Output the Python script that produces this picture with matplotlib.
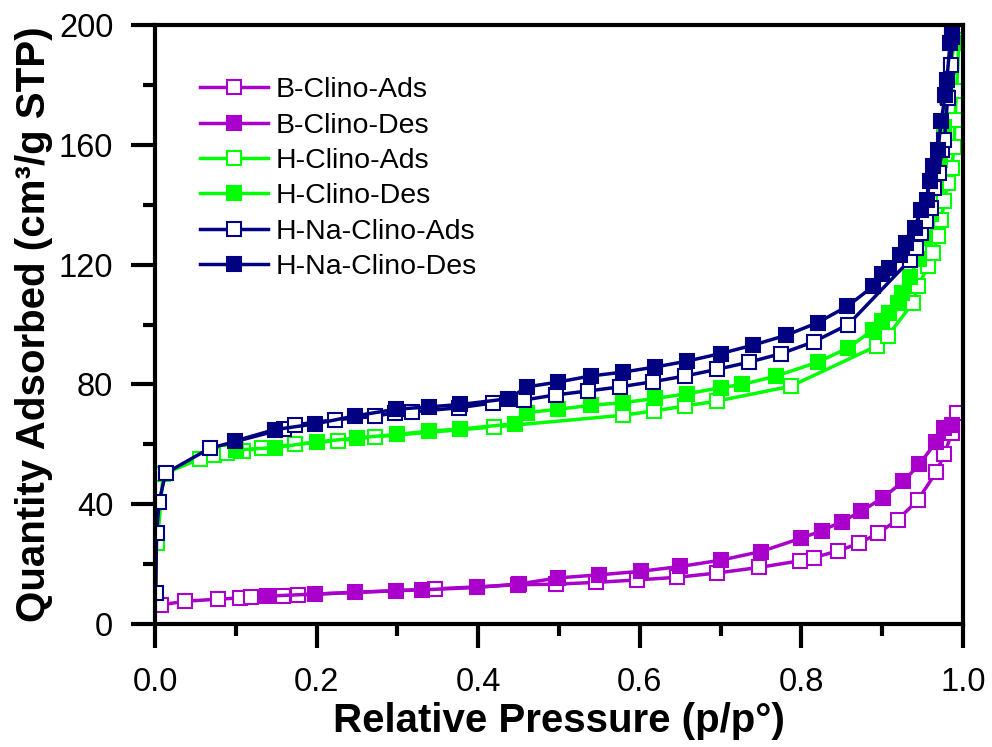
import numpy as np
import matplotlib
matplotlib.use("Agg")
import matplotlib.pyplot as plt
from matplotlib.ticker import MultipleLocator

plt.rcParams['font.family'] = ['Liberation Sans', 'DejaVu Sans']

# B-Clino (purple)
b_ads_p = [0.008, 0.037, 0.078, 0.105, 0.119, 0.158, 0.177, 0.346, 0.449, 0.496, 0.546,
           0.596, 0.646, 0.695, 0.748, 0.798, 0.816, 0.845, 0.871, 0.895, 0.919, 0.944,
           0.967, 0.977, 0.986, 0.992]
b_ads_q = [6.4, 7.6, 8.3, 8.7, 8.9, 9.4, 9.7, 11.7, 13.1, 13.3, 13.9,
           14.7, 15.6, 17.0, 18.9, 21.1, 22.2, 24.4, 26.9, 30.3, 34.8, 41.3,
           50.8, 56.7, 63.7, 70.6]
b_des_p = [0.138, 0.198, 0.248, 0.298, 0.330, 0.399, 0.451, 0.499, 0.549, 0.601, 0.650,
           0.700, 0.750, 0.799, 0.825, 0.850, 0.874, 0.901, 0.926, 0.946, 0.967, 0.977, 0.986]
b_des_q = [9.3, 10.0, 10.6, 11.1, 11.4, 12.2, 13.4, 15.4, 16.4, 17.6, 19.2,
           21.3, 24.2, 28.6, 31.1, 34.2, 37.6, 42.2, 47.6, 53.3, 60.9, 65.3, 66.5]

# H-Clino (green)
h_ads_p = [0.003, 0.010, 0.056, 0.073, 0.089, 0.109, 0.133, 0.173, 0.226, 0.272, 0.420,
           0.579, 0.617, 0.656, 0.695, 0.787, 0.893, 0.907, 0.938, 0.944, 0.957, 0.963,
           0.969, 0.973, 0.977, 0.981, 0.986, 0.989, 0.990, 0.992, 0.995]
h_ads_q = [27.0, 50.0, 55.2, 56.3, 57.0, 57.8, 58.7, 60.0, 61.2, 62.5, 65.8,
           69.7, 71.1, 72.8, 74.4, 79.4, 92.8, 96.3, 107.2, 112.8, 119.4, 123.9,
           129.4, 135.0, 141.1, 147.2, 152.2, 159.4, 168.3, 177.8, 195.0]
h_des_p = [0.100, 0.148, 0.200, 0.250, 0.299, 0.339, 0.378, 0.446, 0.461, 0.499, 0.539,
           0.579, 0.619, 0.659, 0.700, 0.727, 0.769, 0.820, 0.858, 0.888, 0.900, 0.909,
           0.919, 0.924, 0.934, 0.945, 0.953, 0.960, 0.966, 0.971, 0.976, 0.980, 0.985, 0.989]
h_des_q = [58.1, 58.9, 60.8, 62.1, 63.3, 64.4, 65.1, 66.9, 70.6, 71.7, 73.0,
           73.9, 75.3, 76.9, 78.9, 80.0, 82.8, 87.4, 92.2, 98.1, 101.1, 103.9,
           107.2, 110.6, 116.0, 122.0, 129.0, 137.0, 146.0, 155.0, 166.0, 176.0, 186.0, 194.0]

# H-Na-Clino (navy)
hn_ads_p = [0.001, 0.002, 0.005, 0.013, 0.068, 0.160, 0.173, 0.223, 0.272, 0.297, 0.318,
            0.376, 0.418, 0.457, 0.496, 0.536, 0.576, 0.616, 0.656, 0.695, 0.735, 0.775,
            0.815, 0.858, 0.935, 0.942, 0.948, 0.954, 0.960, 0.964, 0.970, 0.974, 0.977,
            0.981, 0.985, 0.987]
hn_ads_q = [10.5, 30.5, 40.6, 50.3, 58.7, 65.2, 66.5, 68.2, 69.3, 70.6, 70.8,
            72.2, 73.8, 74.8, 76.5, 77.8, 79.2, 80.9, 82.8, 85.0, 87.4, 90.3,
            94.2, 100.0, 121.7, 125.6, 130.6, 134.4, 138.9, 145.6, 150.6, 158.3, 161.7,
            175.6, 186.7, 196.1]
hn_des_p = [0.099, 0.148, 0.198, 0.248, 0.298, 0.339, 0.378, 0.437, 0.461, 0.499, 0.539,
            0.579, 0.619, 0.659, 0.700, 0.740, 0.781, 0.820, 0.857, 0.889, 0.900, 0.909,
            0.922, 0.930, 0.940, 0.948, 0.955, 0.959, 0.963, 0.969, 0.973, 0.978, 0.980,
            0.984, 0.986]
hn_des_q = [61.1, 64.9, 66.8, 69.5, 71.7, 72.5, 73.3, 75.2, 79.2, 80.8, 82.8,
            84.1, 85.8, 87.8, 90.3, 93.1, 96.4, 100.6, 106.1, 112.8, 116.7, 118.9,
            123.3, 127.2, 132.2, 138.3, 141.7, 147.8, 152.8, 158.3, 167.8, 176.7, 181.7,
            193.9, 198.3]

purple = '#AA00CC'
green = '#00FF00'
navy = '#000080'

series = [
    ('B-Clino-Ads', b_ads_p, b_ads_q, purple, False),
    ('B-Clino-Des', b_des_p, b_des_q, purple, True),
    ('H-Clino-Ads', h_ads_p, h_ads_q, green, False),
    ('H-Clino-Des', h_des_p, h_des_q, green, True),
    ('H-Na-Clino-Ads', hn_ads_p, hn_ads_q, navy, False),
    ('H-Na-Clino-Des', hn_des_p, hn_des_q, navy, True),
]

fig = plt.figure(figsize=(9.92, 7.47), dpi=100)
ax = fig.add_axes([155 / 992, 1 - 624 / 747, 808 / 992, 599 / 747])

for label, p, q, c, filled in series:
    ax.plot(p, q, '-s', color=c, lw=2.5, ms=10.5,
            mfc=c if filled else 'white', mec=c, mew=1.5, label=label)

ax.set_xlim(0, 1.0)
ax.set_ylim(0, 200)
ax.xaxis.set_major_locator(MultipleLocator(0.2))
ax.xaxis.set_minor_locator(MultipleLocator(0.1))
ax.yaxis.set_major_locator(MultipleLocator(40))
ax.yaxis.set_minor_locator(MultipleLocator(20))
ax.xaxis.set_major_formatter(plt.FuncFormatter(lambda v, _: f'{v:.1f}'))

for s in ax.spines.values():
    s.set_linewidth(3)
ax.tick_params(which='both', direction='out', width=3, labelsize=23.5)
ax.tick_params(which='major', length=17)
ax.tick_params(which='minor', length=8.5)
ax.tick_params(axis='x', which='major', pad=14)
ax.tick_params(axis='y', which='major', pad=13)

ax.set_xlabel('Relative Pressure (p/p°)', fontsize=29, fontweight='bold', labelpad=3)
ax.set_ylabel('Quantity Adsorbed (cm³/g STP)', fontsize=29, fontweight='bold', labelpad=4)

ax.legend(loc='upper left', bbox_to_anchor=(0.0557, 0.913), frameon=False,
          fontsize=20.5, handlelength=2.4, handletextpad=0.25, labelspacing=0.33,
          borderpad=0, borderaxespad=0)

fig.savefig('out.png', dpi=100)
